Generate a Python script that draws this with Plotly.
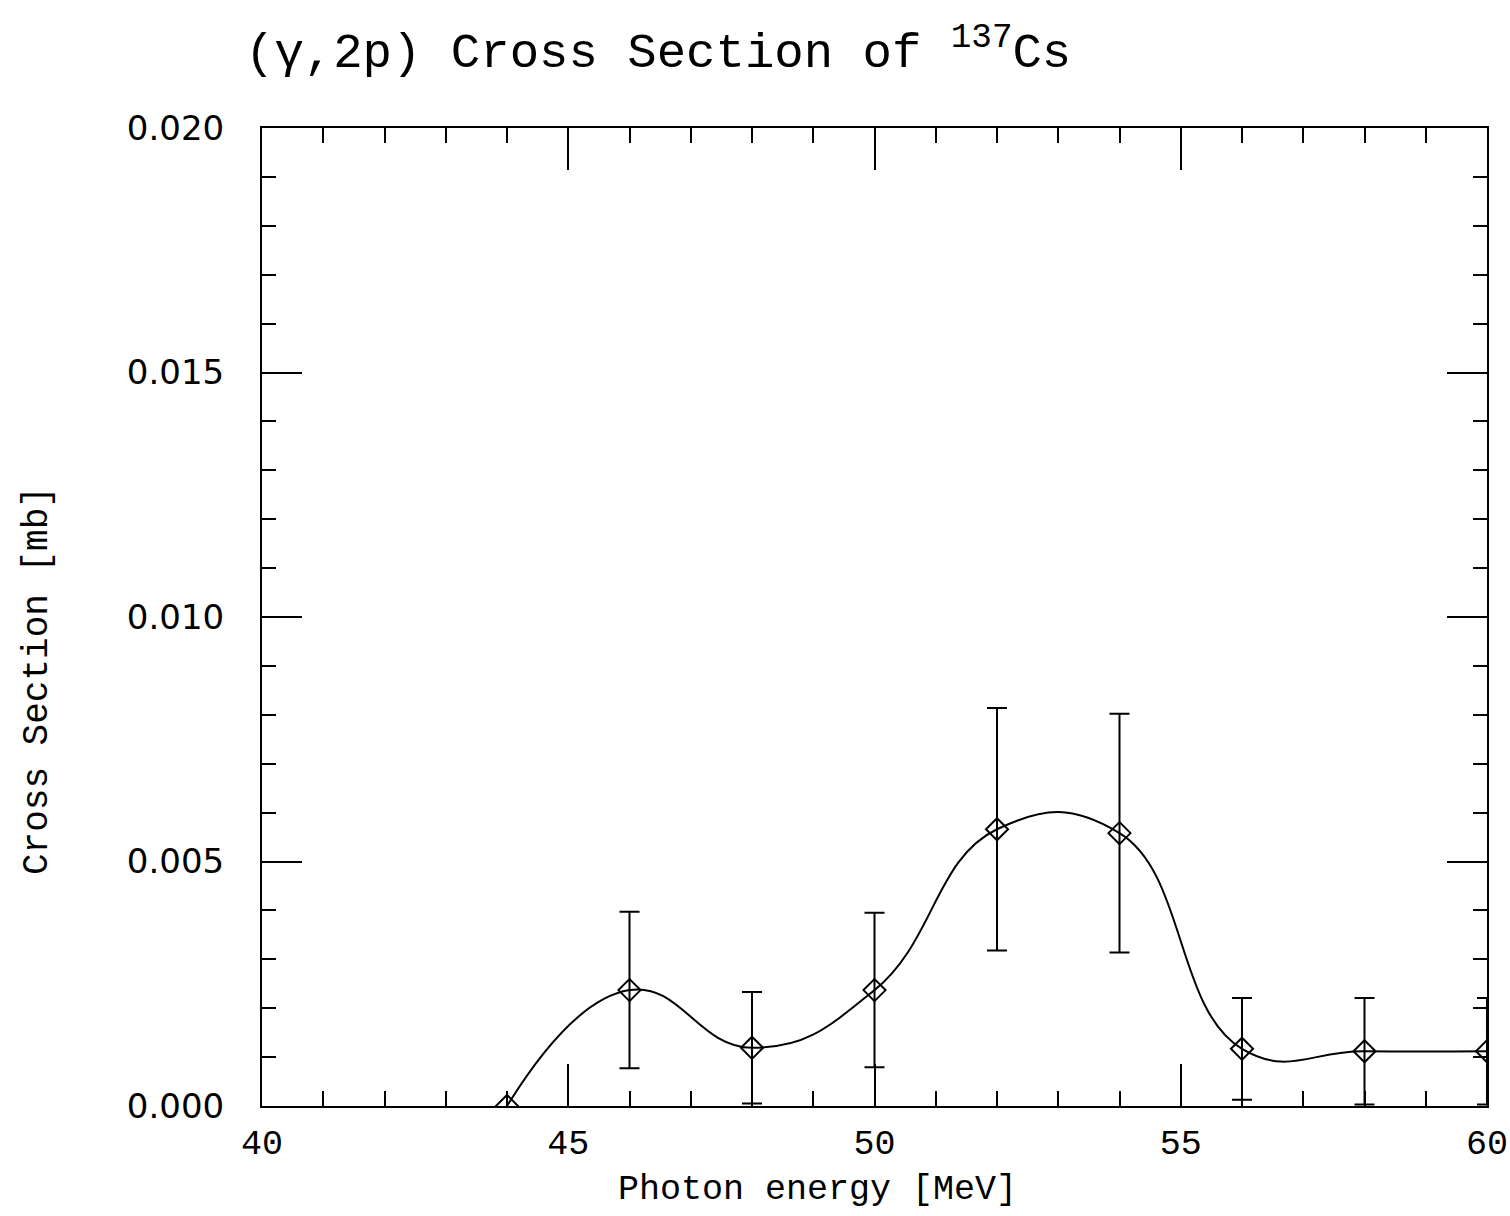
import plotly.graph_objects as go

energy = [44, 46, 48, 50, 52, 54, 56, 58, 60]
xsec = [0.0, 0.00237, 0.00119, 0.00237, 0.00566, 0.00558, 0.00117, 0.00112, 0.00112]
xsec_err = [0.0, 0.00160, 0.00114, 0.00158, 0.00248, 0.00244, 0.00104, 0.00109, 0.00109]

x_ticks = [40, 45, 50, 55, 60]
y_ticks = [0.000, 0.005, 0.010, 0.015, 0.020]
y_tick_text = ["0.000", "0.005", "0.010", "0.015", "0.020"]

mono = "Liberation Mono"
sans = "DejaVu Sans"

W, H = 1510, 1216
L, R, T, B = 262, 23, 128, 110
PW, PH = W - L - R, H - T - B

fig = go.Figure()
fig.add_trace(go.Scatter(
    x=energy, y=xsec, mode="lines",
    line=dict(color="black", width=2, shape="spline", smoothing=1.3),
    hoverinfo="skip", showlegend=False,
))
fig.add_trace(go.Scatter(
    x=energy[1:], y=xsec[1:], mode="markers",
    marker=dict(symbol="diamond-open", size=17, color="black", line=dict(width=2, color="black")),
    error_y=dict(type="data", array=xsec_err[1:], visible=True, color="black", thickness=2, width=10),
    showlegend=False,
))
fig.add_trace(go.Scatter(
    x=energy[:1], y=xsec[:1], mode="markers",
    marker=dict(symbol="diamond-open", size=17, color="black", line=dict(width=2, color="black")),
    showlegend=False,
))

fig.update_layout(
    width=W, height=H,
    margin=dict(l=L, r=R, t=T, b=B, autoexpand=False),
    paper_bgcolor="white", plot_bgcolor="white",
    title=dict(
        text="(γ,2p) Cross Section of <sup>137</sup>Cs",
        x=245 / W, xanchor="left", xref="container",
        y=1 - 50 / H, yanchor="middle", yref="container",
        font=dict(family=mono, size=49, color="black"),
    ),
    xaxis=dict(
        range=[40, 60], tickvals=x_ticks, automargin=False,
        ticks="inside", ticklen=42, tickwidth=2, tickcolor="black",
        minor=dict(dtick=1, ticks="inside", ticklen=15, tickwidth=2, tickcolor="black"),
        showline=True, linecolor="black", linewidth=2, mirror="ticks",
        showgrid=False, zeroline=False,
        tickfont=dict(family=mono, size=35, color="black"),
        ticklabelstandoff=4,
    ),
    yaxis=dict(
        range=[0, 0.020], tickvals=y_ticks, ticktext=y_tick_text, automargin=False,
        ticks="inside", ticklen=40, tickwidth=2, tickcolor="black",
        minor=dict(dtick=0.001, ticks="inside", ticklen=14, tickwidth=2, tickcolor="black"),
        showline=True, linecolor="black", linewidth=2, mirror="ticks",
        showgrid=False, zeroline=False,
        tickfont=dict(family=sans, size=34, color="black"),
        ticklabelstandoff=29,
    ),
    annotations=[
        dict(text="Photon energy [MeV]", xref="paper", yref="paper",
             x=(817 - L) / PW, y=-(1190 - (H - B)) / PH,
             xanchor="center", yanchor="middle", showarrow=False,
             font=dict(family=mono, size=35, color="black")),
        dict(text="Cross Section [mb]", xref="paper", yref="paper",
             x=-(L - 37) / PW, y=((H - B) - 681) / PH,
             xanchor="center", yanchor="middle", showarrow=False, textangle=-90,
             font=dict(family=mono, size=36, color="black")),
    ],
)

fig.write_html("out.html")
